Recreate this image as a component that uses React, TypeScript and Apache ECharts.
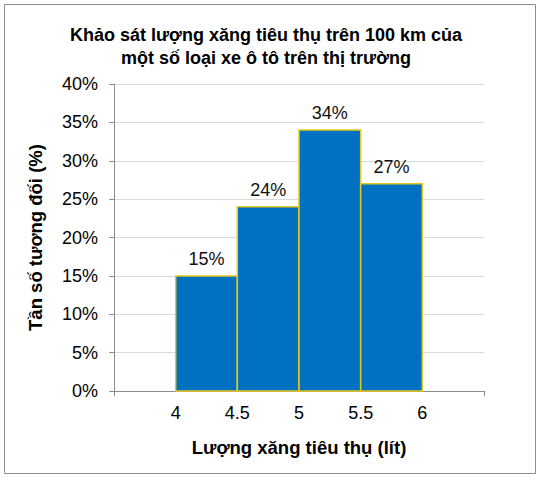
import React, { useEffect, useRef } from 'react';
import * as echarts from 'echarts';

// histogram bins (litres per 100 km) and relative frequency (%)
const binEdges = [4, 4.5, 5, 5.5, 6];
const frequencies = [15, 24, 34, 27];
const yTicks = [0, 5, 10, 15, 20, 25, 30, 35, 40];

const FONT = 'Arial, "Liberation Sans", sans-serif';

export default function App() {
  const chartRef = useRef<HTMLDivElement>(null);

  useEffect(() => {
    document.body.style.margin = '0';
    if (!chartRef.current) return;
    const chart = echarts.init(chartRef.current, null, { renderer: 'svg' });

    const bars = frequencies.map((f, i) => [binEdges[i], binEdges[i + 1], f]);

    const option = {
      animation: false,
      backgroundColor: '#fff',
      title: {
        text: 'Khảo sát lượng xăng tiêu thụ trên 100 km của\nmột số loại xe ô tô trên thị trường',
        left: 261,
        top: 18,
        textAlign: 'center',
        textStyle: {
          fontFamily: FONT,
          fontSize: 18,
          fontWeight: 'bold',
          color: '#000',
          lineHeight: 23,
        },
      },
      graphic: [
        {
          type: 'rect',
          shape: { x: 4.5, y: 4.5, width: 531, height: 469 },
          style: { fill: 'none', stroke: '#8c8c8c', lineWidth: 1 },
          silent: true,
        },
      ],
      grid: { left: 114, right: 55, top: 84, bottom: 89, containLabel: false },
      xAxis: [
        {
          type: 'value',
          min: 3.5,
          max: 6.5,
          interval: 0.5,
          name: 'Lượng xăng tiêu thụ (lít)',
          nameLocation: 'middle',
          nameGap: 47,
          nameTextStyle: { fontFamily: FONT, fontSize: 18.5, fontWeight: 'bold', color: '#000' },
          axisLine: { show: true, lineStyle: { color: '#8c8c8c' } },
          axisTick: { show: false },
          splitLine: { show: false },
          axisLabel: {
            margin: 13,
            fontFamily: FONT,
            fontSize: 18,
            color: '#000',
            formatter: (v: number) => (v < 4 || v > 6 ? '' : String(v)),
          },
        },
        {
          // only draws the two end ticks of the axis
          type: 'value',
          position: 'bottom',
          min: 0,
          max: 1,
          interval: 1,
          axisLine: { show: false },
          axisTick: { show: true, length: 5, lineStyle: { color: '#8c8c8c' } },
          axisLabel: { show: false },
          splitLine: { show: false },
        },
      ],
      yAxis: {
        type: 'value',
        min: yTicks[0],
        max: yTicks[yTicks.length - 1],
        interval: 5,
        name: 'Tần số tương đối (%)',
        nameLocation: 'middle',
        nameGap: 69,
        nameTextStyle: { fontFamily: FONT, fontSize: 18.5, fontWeight: 'bold', color: '#000' },
        axisLine: { show: true, lineStyle: { color: '#8c8c8c' } },
        axisTick: { show: true, length: 5, lineStyle: { color: '#8c8c8c' } },
        splitLine: { show: true, lineStyle: { color: '#d9d9d9' } },
        axisLabel: {
          margin: 16,
          fontFamily: FONT,
          fontSize: 18,
          color: '#000',
          formatter: '{value}%',
        },
      },
      series: [
        {
          type: 'custom',
          xAxisIndex: 0,
          data: bars,
          encode: { x: [0, 1], y: 2 },
          renderItem: (_params: any, api: any) => {
            const start = api.coord([api.value(0), api.value(2)]);
            const end = api.coord([api.value(1), 0]);
            return {
              type: 'group',
              children: [
                {
                  type: 'rect',
                  shape: {
                    x: start[0],
                    y: start[1],
                    width: end[0] - start[0],
                    height: end[1] - start[1],
                  },
                  style: { fill: '#0070c0', stroke: '#e6c81e', lineWidth: 1.5 },
                },
                {
                  type: 'text',
                  x: (start[0] + end[0]) / 2,
                  y: start[1] - 8,
                  style: {
                    text: api.value(2) + '%',
                    fontFamily: FONT,
                    fontSize: 18,
                    fill: '#111',
                    align: 'center',
                    verticalAlign: 'bottom',
                  },
                },
              ],
            };
          },
        },
      ],
    };

    chart.setOption(option);
    return () => {
      chart.dispose();
    };
  }, []);

  return <div ref={chartRef} style={{ width: 539, height: 480 }} />;
}
